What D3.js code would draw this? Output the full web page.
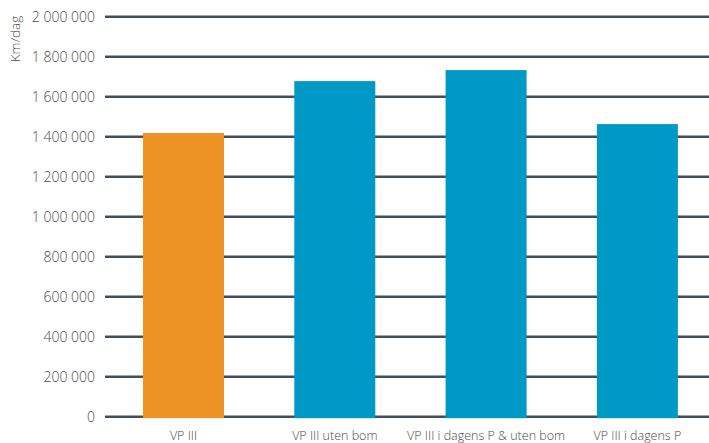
<!DOCTYPE html>
<html><head><meta charset="utf-8">
<script src="https://cdn.jsdelivr.net/npm/d3@7"></script>
<style>body{margin:0;background:#fff}svg{display:block}</style>
</head><body>
<svg id="c" width="709" height="443"></svg>
<script>
const categories = ["VP III", "VP III uten bom", "VP III i dagens P & uten bom", "VP III i dagens P"];
const values = [1418500, 1678000, 1733000, 1463000];
const barColors = ["#ED9224", "#0099C6", "#0099C6", "#0099C6"];
const yTicks = [0, 200000, 400000, 600000, 800000, 1000000, 1200000, 1400000, 1600000, 1800000, 2000000];
const yTitle = "Km/dag";

const svg = d3.select("#c");
const font = "'Open Sans', sans-serif";
const y = d3.scaleLinear().domain([0, 2000000]).range([416.7, 16.7]);
const x = d3.scaleBand().domain(categories).range([105.2, 715.7]).paddingInner(0.4647).paddingOuter(0.25);
const fmt = v => d3.format(",")(v).replace(/,/g, " ");

// gridlines
svg.append("g").selectAll("line").data(yTicks).join("line")
  .attr("x1", 105).attr("x2", 709)
  .attr("y1", d => y(d)).attr("y2", d => y(d))
  .attr("stroke", "#3F505C").attr("stroke-width", 2.6);

// y labels via axis
const ya = svg.append("g").attr("transform", "translate(95,0)")
  .call(d3.axisLeft(y).tickValues(yTicks).tickFormat(fmt).tickSize(0).tickPadding(0));
ya.select(".domain").remove();
ya.selectAll("text").attr("font-family", font).attr("font-weight", 300).attr("font-size", 14).attr("fill", "#4a4a4a").attr("dy", "0.35em");

// bars
svg.append("g").selectAll("rect").data(values).join("rect")
  .attr("x", (d, i) => x(categories[i]))
  .attr("width", x.bandwidth())
  .attr("y", d => y(d))
  .attr("height", d => y(0) + 1.5 - y(d))
  .attr("fill", (d, i) => barColors[i]);

// x labels
const xa = svg.append("g").attr("transform", "translate(0,418)")
  .call(d3.axisBottom(x).tickSize(0).tickPadding(0));
xa.select(".domain").remove();
xa.selectAll("text").attr("font-family", font).attr("font-weight", 300).attr("font-size", 12.5).attr("fill", "#4a4a4a").attr("y", 22).attr("dy", 0);

// y title
svg.append("text").attr("transform", "translate(20,39) rotate(-90)")
  .attr("text-anchor", "middle").attr("font-family", font).attr("font-weight", 300).attr("font-size", 13.5)
  .attr("fill", "#4a4a4a").text(yTitle);
</script>
</body></html>
